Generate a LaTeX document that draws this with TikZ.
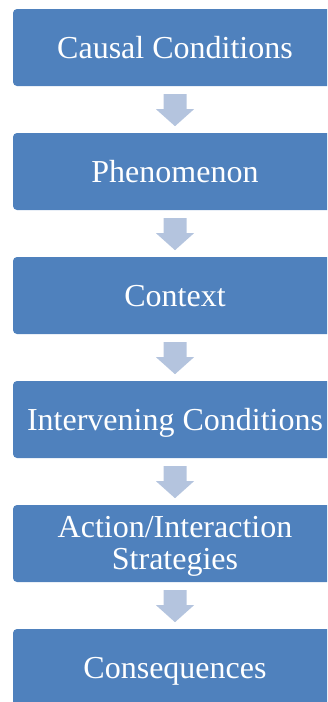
\documentclass[tikz,border=0pt]{standalone}
\usepackage{fontspec}
\setmainfont{Liberation Serif}
\usetikzlibrary{calc}
\definecolor{boxblue}{RGB}{79,129,189}
\definecolor{arrowblue}{RGB}{180,196,222}
\tikzset{
  stagebox/.style={fill=boxblue, draw=none, rounded corners=4pt, minimum width=324pt, minimum height=77pt, inner sep=0pt},
  stagetext/.style={text=white, font=\fontsize{32}{32}\selectfont, anchor=base, inner sep=0pt},
  flowarrow/.style={fill=arrowblue, draw=none}
}
\newcommand{\downarrowshape}[2]{%
  \fill[flowarrow] ($(#1.south)+(-11.5,8)$) -- ($(#1.south)+(11.5,8)$) -- ($(#1.south)+(11.5,23)$) -- ($(#1.south)+(19,23)$) -- ($(#1.south)+(0,40)$) -- ($(#1.south)+(-19,23)$) -- ($(#1.south)+(-11.5,23)$) -- cycle;}
\begin{document}
\begin{tikzpicture}[x=1pt,y=-1pt]
\useasboundingbox (0,0) rectangle (327,702);
\clip (0,0) rectangle (327,702);
\node[stagebox] (b1) at (175,47.5) {};
\node[stagebox] (b2) at (175,171.5) {};
\node[stagebox] (b3) at (175,295.5) {};
\node[stagebox] (b4) at (175,419.5) {};
\node[stagebox] (b5) at (175,543.5) {};
\node[stagebox] (b6) at (175,667.5) {};
\node[stagetext] (t1) at ($(b1.center)+(0,10.5)$) {Causal Conditions};
\node[stagetext] (t2) at ($(b2.center)+(0,10.5)$) {Phenomenon};
\node[stagetext] (t3) at ($(b3.center)+(0,10.5)$) {Context};
\node[stagetext] (t4) at ($(b4.center)+(0,10.5)$) {Intervening Conditions};
\node[stagetext] (t5a) at ($(b5.center)+(0,-6.5)$) {Action/Interaction};
\node[stagetext] (t5b) at ($(b5.center)+(0,25.5)$) {Strategies};
\node[stagetext] (t6) at ($(b6.center)+(0,10.5)$) {Consequences};
\downarrowshape{b1}{b2}
\downarrowshape{b2}{b3}
\downarrowshape{b3}{b4}
\downarrowshape{b4}{b5}
\downarrowshape{b5}{b6}
\end{tikzpicture}
\end{document}
